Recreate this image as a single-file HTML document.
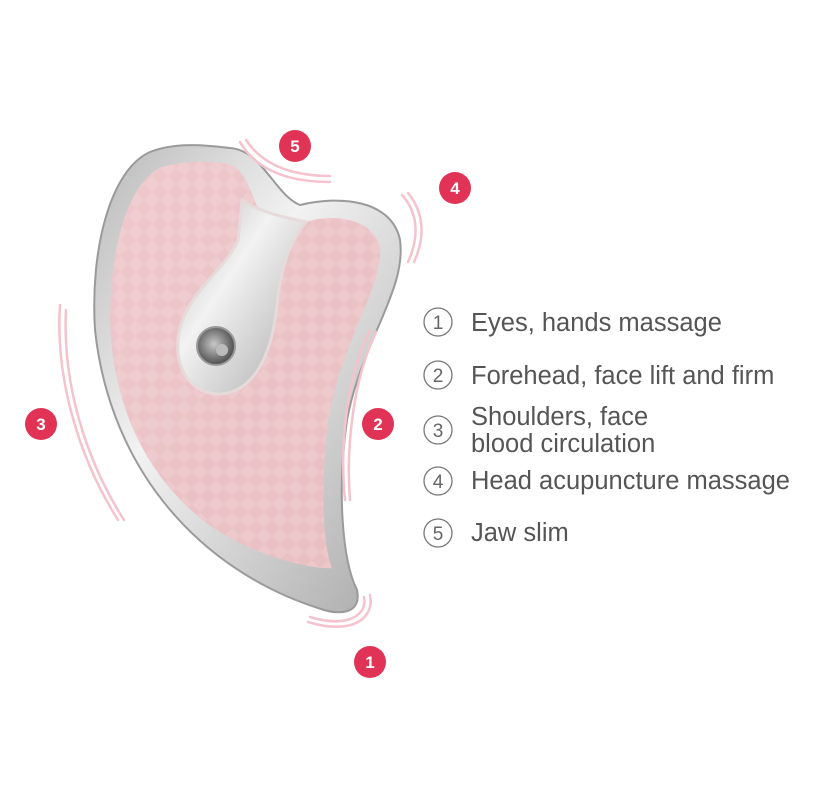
<!DOCTYPE html>
<html><head><meta charset="utf-8"><style>
body{margin:0;background:#fff;width:828px;height:807px;overflow:hidden}
svg{display:block}
text{font-family:"Liberation Sans","DejaVu Sans",sans-serif}
</style></head><body>
<svg width="828" height="807" viewBox="0 0 828 807" xmlns="http://www.w3.org/2000/svg">
<defs>
<linearGradient id="sil" x1="0" y1="0" x2="1" y2="1">
<stop offset="0" stop-color="#b8b8b8"/><stop offset="0.4" stop-color="#f2f2f2"/><stop offset="1" stop-color="#a9a9a9"/>
</linearGradient>
<linearGradient id="pk" x1="0" y1="0" x2="1" y2="1">
<stop offset="0" stop-color="#eec8cb"/><stop offset="1" stop-color="#e8bec1"/>
</linearGradient>
<pattern id="dia" width="16" height="16" patternUnits="userSpaceOnUse">
<path d="M8 0 L16 8 L8 16 L0 8 Z" fill="#f6dcde" opacity="0.3"/>
</pattern>
<radialGradient id="btn" cx="0.45" cy="0.45" r="0.6">
<stop offset="0" stop-color="#c8c8c8"/><stop offset="0.6" stop-color="#777"/><stop offset="1" stop-color="#444"/>
</radialGradient>
</defs>
<path d="M230,148 C262,150 275,195 300,205 C340,195 392,200 400,240 C407,290 362,340 347,420 C337,490 342,560 357,590 C362,614 340,616 318,608 C200,570 110,470 95,330 C90,250 110,170 150,152 C175,142 205,145 230,148 Z" fill="url(#sil)" stroke="#9a9a9a" stroke-width="2"/>
<path d="M228,164 C248,170 252,200 262,216 L300,224 C330,212 372,217 380,247 C383,287 343,337 328,420 C320,490 323,545 332,568 C318,570 250,558 200,518 C142,470 112,400 110,320 C110,250 127,182 162,167 C186,160 210,161 228,164 Z" fill="url(#pk)"/>
<path d="M228,164 C248,170 252,200 262,216 L300,224 C330,212 372,217 380,247 C383,287 343,337 328,420 C320,490 323,545 332,568 C318,570 250,558 200,518 C142,470 112,400 110,320 C110,250 127,182 162,167 C186,160 210,161 228,164 Z" fill="url(#dia)"/>
<path d="M242,200 C262,214 290,218 306,222 C290,240 280,270 277,305 C272,355 254,392 220,394 C185,394 172,360 180,328 C190,290 225,270 238,240 Z" fill="url(#sil)" stroke="#e6dada" stroke-width="3"/>
<circle cx="216" cy="346" r="19" fill="url(#btn)" stroke="#999" stroke-width="2"/>
<circle cx="222" cy="350" r="6" fill="#bbb"/>
<g fill="none" stroke="#f4c3cd" stroke-width="2.5" stroke-linecap="round">
<path d="M240,142 C255,168 285,182 330,182"/>
<path d="M246,140 C262,164 290,176 330,176"/>
<path d="M402,195 C420,215 418,240 408,262"/>
<path d="M408,193 C426,215 424,240 414,262"/>
<path d="M60,305 C55,380 80,460 118,520"/>
<path d="M66,310 C62,385 87,462 124,520"/>
<path d="M370,330 C345,380 340,450 345,500"/>
<path d="M376,332 C352,382 346,452 350,500"/>
<path d="M370,595 C375,620 350,635 308,622"/>
<path d="M364,597 C368,616 346,628 310,617"/>
</g>
<g fill="#e03355">
<circle cx="295" cy="146" r="16"/><circle cx="455" cy="188" r="16"/><circle cx="41" cy="424" r="16"/><circle cx="378" cy="424" r="16"/><circle cx="370" cy="662" r="16"/>
</g>
<g fill="#fff" font-size="17" font-weight="bold" text-anchor="middle">
<text x="295" y="152">5</text><text x="455" y="194">4</text><text x="41" y="430">3</text><text x="378" y="430">2</text><text x="370" y="668">1</text>
</g>
<g fill="none" stroke="#777" stroke-width="1.3">
<circle cx="438" cy="322" r="14"/><circle cx="438" cy="375" r="14"/><circle cx="438" cy="430" r="14"/><circle cx="438" cy="481" r="14"/><circle cx="438" cy="533" r="14"/>
</g>
<g fill="#666" font-size="19" text-anchor="middle">
<text x="438" y="329">1</text><text x="438" y="382">2</text><text x="438" y="437">3</text><text x="438" y="488">4</text><text x="438" y="540">5</text>
</g>
<g fill="#555" font-size="25.5">
<text x="471" y="331">Eyes, hands massage</text>
<text x="471" y="384">Forehead, face lift and firm</text>
<text x="471" y="425">Shoulders, face</text>
<text x="471" y="452">blood circulation</text>
<text x="471" y="489">Head acupuncture massage</text>
<text x="471" y="541">Jaw slim</text>
</g>
</svg>
</body></html>
